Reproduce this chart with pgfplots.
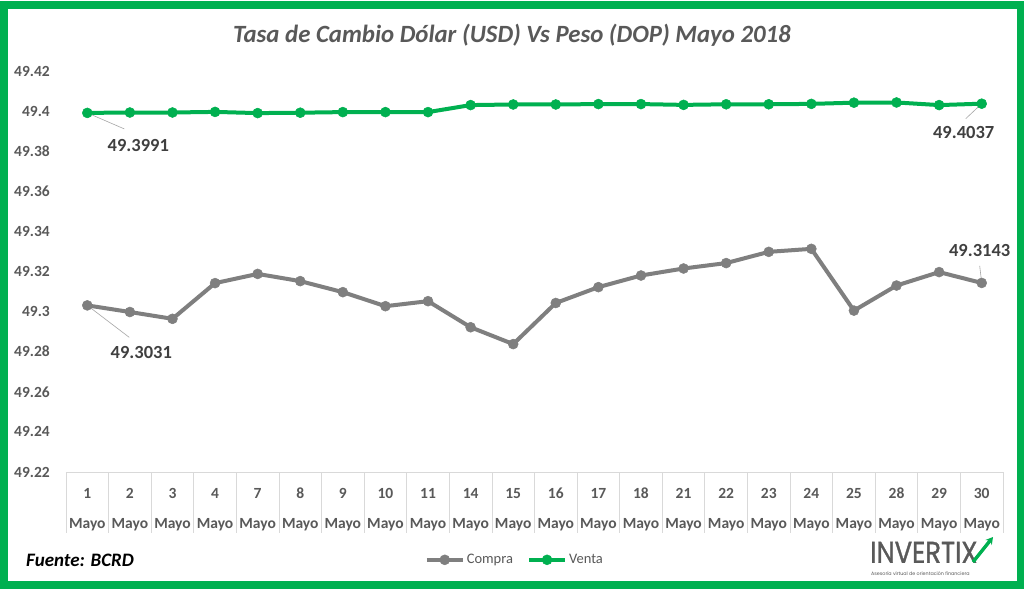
\documentclass[border=0pt]{standalone}
\usepackage{pgfplots}
\pgfplotsset{compat=1.18}
\usepackage{fontspec}
\setmainfont{Carlito}
\newfontfamily\logofont[FakeBold=1.2]{Poppins}
\newfontfamily\taglinefont{Poppins}
\usetikzlibrary{arrows.meta}

\definecolor{venta}{HTML}{00B050}
\definecolor{compra}{HTML}{7F7F7F}
\definecolor{ticktext}{HTML}{595959}
\definecolor{labeltext}{HTML}{404040}
\definecolor{tableline}{HTML}{D9D9D9}
\definecolor{leader}{HTML}{A6A6A6}

% two-line category label: day number over the month name
\newcommand\dl[1]{\rule{0pt}{12pt}#1\\[12pt]Mayo}

\begin{document}
\begin{tikzpicture}[x=1pt,y=1pt]
\useasboundingbox (0,0) rectangle (1024,590);
\fill[white] (0,0) rectangle (1024,590);

\begin{axis}[
  at={(66pt,118pt)}, anchor=south west,
  scale only axis, width=937pt, height=401pt,
  clip=false,
  xmin=-0.5, xmax=21.5,
  ymin=49.22, ymax=49.42,
  ytick={49.22,49.24,49.26,49.28,49.3,49.32,49.34,49.36,49.38,49.4,49.42},
  xtick={0,...,21},
  xticklabels={{\dl{1}},{\dl{2}},{\dl{3}},{\dl{4}},{\dl{7}},{\dl{8}},{\dl{9}},{\dl{10}},{\dl{11}},{\dl{14}},{\dl{15}},{\dl{16}},{\dl{17}},{\dl{18}},{\dl{21}},{\dl{22}},{\dl{23}},{\dl{24}},{\dl{25}},{\dl{28}},{\dl{29}},{\dl{30}}},
  minor xtick={-0.5,0.5,...,21.5},
  tick align=outside,
  major tick length=0pt,
  minor tick length=61pt,
  xtick pos=bottom,
  minor tick style={color=tableline, line width=0.8pt},
  axis x line*=bottom,
  axis y line*=left,
  x axis line style={color=tableline, line width=0.8pt, -},
  y axis line style={draw=none},
  /pgf/number format/assume math mode=true,
  yticklabel style={font=\fontsize{15.5pt}{18pt}\selectfont\bfseries, text=ticktext, anchor=east, inner sep=0pt, xshift=-16pt},
  xticklabel style={font=\fontsize{15.5pt}{18pt}\selectfont\bfseries, text=ticktext, align=center, anchor=north, inner sep=0pt, yshift=-14pt},
  legend style={at={(0.479,-0.219)}, anchor=center, draw=none, fill=none,
    font=\fontsize{14.5pt}{17pt}\selectfont, text=ticktext,
    /tikz/every even column/.append style={column sep=12pt},
    inner sep=0pt},
  legend columns=2,
  legend image code/.code={\draw[#1, mark repeat=2, mark phase=2] plot coordinates {(0pt,0pt) (18pt,0pt) (36pt,0pt)};},
]

\addplot[color=compra, line width=4pt, mark=*, mark size=5pt, mark options={solid, line width=0.5pt, fill=compra}] coordinates {
  (0,49.3031) (1,49.2998) (2,49.2964) (3,49.3142) (4,49.3188) (5,49.3152)
  (6,49.3097) (7,49.3027) (8,49.3052) (9,49.2922) (10,49.2838) (11,49.3043)
  (12,49.3122) (13,49.3180) (14,49.3215) (15,49.3242) (16,49.3298) (17,49.3313)
  (18,49.3005) (19,49.3130) (20,49.3197) (21,49.3143)
};
\addlegendentry{Compra}

\addplot[color=venta, line width=4pt, mark=*, mark size=5pt, mark options={solid, line width=0.5pt, fill=venta}] coordinates {
  (0,49.3991) (1,49.3993) (2,49.3993) (3,49.3996) (4,49.3990) (5,49.3992)
  (6,49.3995) (7,49.3995) (8,49.3995) (9,49.4030) (10,49.4033) (11,49.4033)
  (12,49.4035) (13,49.4035) (14,49.4031) (15,49.4034) (16,49.4034) (17,49.4036)
  (18,49.4042) (19,49.4043) (20,49.4030) (21,49.4037)
};
\addlegendentry{Venta}

% data labels on the first and last points
\draw[leader, line width=0.6pt] (axis cs:0,49.3991) -- ++(37pt,-16pt);
\node[font=\fontsize{18.5pt}{22pt}\selectfont\bfseries, text=labeltext] at (axis cs:0,49.3991) [xshift=51pt, yshift=-33pt] {49.3991};
\draw[leader, line width=0.6pt] (axis cs:21,49.4037) -- ++(-16pt,-15pt);
\node[font=\fontsize{18.5pt}{22pt}\selectfont\bfseries, text=labeltext] at (axis cs:21,49.4037) [xshift=-18pt, yshift=-29pt] {49.4037};
\draw[leader, line width=0.6pt] (axis cs:0,49.3031) -- ++(42pt,-32pt);
\node[font=\fontsize{18.5pt}{22pt}\selectfont\bfseries, text=labeltext] at (axis cs:0,49.3031) [xshift=54pt, yshift=-47pt] {49.3031};
\draw[leader, line width=0.6pt] (axis cs:21,49.3143) -- ++(-2pt,17pt);
\node[font=\fontsize{18.5pt}{22pt}\selectfont\bfseries, text=labeltext] at (axis cs:21,49.3143) [xshift=-2pt, yshift=32pt] {49.3143};
\end{axis}

% title
\node[font=\fontsize{24.8pt}{29pt}\selectfont\bfseries\itshape, text=ticktext] at (512,555) {Tasa de Cambio Dólar (USD) Vs Peso (DOP) Mayo 2018};

% source note
\node[anchor=west, inner sep=0pt, font=\fontsize{19pt}{22pt}\selectfont\bfseries\itshape] at (26,30) {Fuente: BCRD};

% logo
\node[anchor=south west, inner sep=0pt, text depth=0pt, font=\logofont\fontsize{30pt}{32pt}\selectfont, text=ticktext] at (870,27) {\scalebox{0.86}[1]{INVERTIX}};
\draw[venta, line width=3.4pt, -{Stealth[length=7pt,width=8pt]}] (973,28) -- (993,53);
\node[anchor=north west, inner sep=0pt, font=\taglinefont\fontsize{4.8pt}{6pt}\selectfont, text=ticktext] at (871,18) {Asesoría virtual de orientación financiera};

% frame
\draw[venta, line width=8pt] (3.5,5) rectangle (1020.5,584.5);
\end{tikzpicture}
\end{document}
